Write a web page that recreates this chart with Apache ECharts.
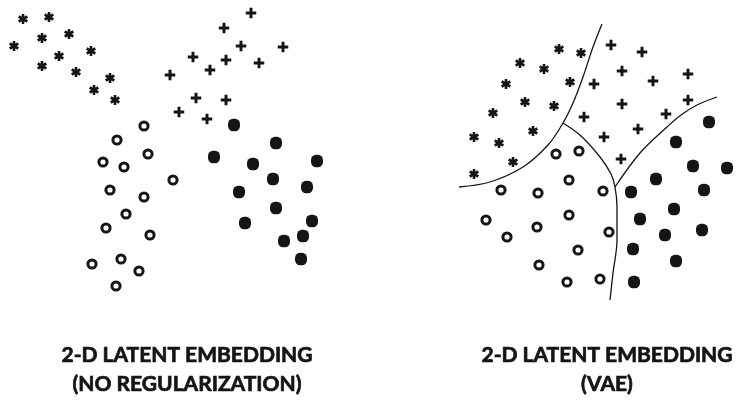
<!DOCTYPE html>
<html>
<head>
<meta charset="utf-8">
<script src="https://cdn.jsdelivr.net/npm/echarts@6/dist/echarts.min.js"></script>
<style>
  html, body { margin: 0; padding: 0; background: #fff; }
  #main { width: 739px; height: 408px; }
</style>
</head>
<body>
<div id="main"></div>
<script>
// 坐标按原图像素读取（x 向右, y 向下）
var leftStars = [[23,19],[49,17],[14,46],[42,38],[69,34],[59,56],[91,51],[42,66],[76,72],[110,78],[94,90],[115,100]];
var leftPlus = [[251,13],[224,28],[241,46],[283,47],[193,57],[226,60],[210,70],[259,63],[170,75],[196,98],[226,100],[179,112],[207,119]];
var leftCircles = [[144,126],[117,140],[148,154],[103,162],[124,167],[173,180],[110,190],[144,197],[126,214],[106,228],[150,235],[92,264],[121,259],[139,271],[116,286]];
var leftFilled = [[234,125],[276,143],[214,157],[253,164],[317,161],[273,179],[307,187],[239,192],[276,208],[245,223],[312,221],[303,236],[284,241],[301,259]];

var rightStars = [[559,49],[581,53],[520,63],[544,69],[506,84],[570,82],[525,102],[554,106],[493,113],[533,131],[474,137],[499,143],[513,162],[474,174]];
var rightPlus = [[611,45],[642,52],[622,71],[594,84],[653,81],[688,74],[622,104],[688,100],[584,117],[666,114],[638,129],[604,137],[621,159]];
var rightCircles = [[556,154],[579,151],[569,180],[501,190],[538,193],[603,191],[486,220],[569,215],[537,227],[609,232],[507,237],[578,250],[539,265],[567,282],[600,279]];
var rightFilled = [[709,122],[676,142],[693,166],[727,168],[656,179],[704,190],[631,192],[674,209],[640,219],[665,235],[702,230],[633,249],[676,261],[634,282]];

// VAE 图中的分界线
var boundaryA = [[459,187],[490,182],[523,167],[548,145],[563,123],[573,103],[583,77],[593,47],[602,24]];
var boundaryB = [[563,123],[581,136],[600,157],[611,174],[615,187],[617,207],[617,240],[613,273],[610,300]];
var boundaryC = [[615,187],[640,153],[667,127],[681,115],[697,105],[717,97]];

var titles = ['2-D LATENT EMBEDDING\n(NO REGULARIZATION)', '2-D LATENT EMBEDDING\n(VAE)'];

var ink = '#151515';

function asteriskPath() {
	var L = 10, w = 2.6, d = '';
	[90, 30, 150].forEach(function (deg) {
		var a = deg * Math.PI / 180;
		var cx = Math.cos(a) * L / 2, cy = Math.sin(a) * L / 2;
		var nx = -Math.sin(a) * w / 2, ny = Math.cos(a) * w / 2;
		var p = [[cx + nx, cy + ny], [-cx + nx, -cy + ny], [-cx - nx, -cy - ny], [cx - nx, cy - ny]];
		d += 'M' + p.map(function (q) { return q[0].toFixed(3) + ',' + q[1].toFixed(3); }).join('L') + 'Z';
	});
	return 'path://' + d;
}

var starSym = asteriskPath();
var plusSym = 'path://M3.6,0H6.4V3.6H10V6.4H6.4V10H3.6V6.4H0V3.6H3.6Z';
var blobSym = 'path://M5,0H7A5,5,0,0,1,12,5V7A5,5,0,0,1,7,12H5A5,5,0,0,1,0,7V5A5,5,0,0,1,5,0Z';

function stars(data) {
	return { type: 'scatter', data: data, symbol: starSym, symbolSize: 10, symbolKeepAspect: true,
		itemStyle: { color: ink, opacity: 1 }, silent: true };
}
function pluses(data) {
	return { type: 'scatter', data: data, symbol: plusSym, symbolSize: 10.5,
		itemStyle: { color: ink, opacity: 1 }, silent: true };
}
function circles(data) {
	return { type: 'scatter', data: data, symbol: 'circle', symbolSize: 8.2,
		itemStyle: { color: '#fff', borderColor: ink, borderWidth: 3, opacity: 1 }, silent: true };
}
function blobs(data) {
	return { type: 'scatter', data: data, symbol: blobSym, symbolSize: [12, 12.5],
		itemStyle: { color: ink, opacity: 1 }, silent: true };
}
function boundary(data) {
	return { type: 'line', data: data, smooth: 0.35, symbol: 'none', silent: true,
		lineStyle: { color: ink, width: 1.3 } };
}

var titleStyle = { fontFamily: 'Lato', fontWeight: 'bold', fontSize: 21, lineHeight: 29, color: ink,
	textBorderColor: ink, textBorderWidth: 0.7 };

var myChart = echarts.init(document.getElementById('main'));
var option = {
	animation: false,
	backgroundColor: '#fff',
	title: [{
		text: titles[0], left: 187, top: 341, textAlign: 'center', padding: 0, textStyle: titleStyle
	}, {
		text: titles[1], left: 607, top: 341, textAlign: 'center', padding: 0, textStyle: titleStyle
	}],
	grid: { left: 0, right: 0, top: 0, bottom: 0 },
	xAxis: { type: 'value', min: 0, max: 739, show: false },
	yAxis: { type: 'value', min: 0, max: 408, inverse: true, show: false },
	series: [
		boundary(boundaryA), boundary(boundaryB), boundary(boundaryC),
		stars(leftStars), pluses(leftPlus), circles(leftCircles), blobs(leftFilled),
		stars(rightStars), pluses(rightPlus), circles(rightCircles), blobs(rightFilled)
	]
};
myChart.setOption(option);
</script>
</body>
</html>
